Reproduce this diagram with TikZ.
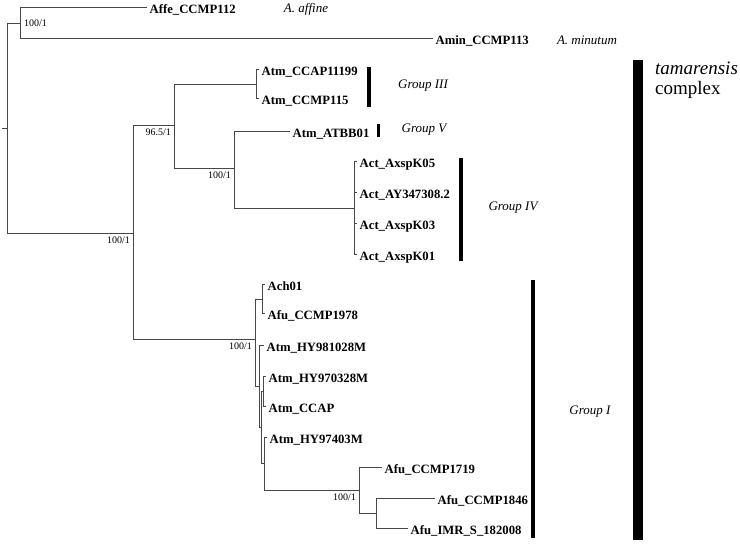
\documentclass[tikz,border=0pt]{standalone}
\usepackage{fontspec}
\setmainfont{Liberation Serif}
\begin{document}
\begin{tikzpicture}[x=1pt,y=-1pt,
  br/.style={draw=black!72, line width=0.8pt},
  leaf/.style={anchor=west, inner xsep=2.5pt, inner ysep=0pt, text height=13pt, text depth=0pt, font=\fontsize{12.7}{14}\selectfont\bfseries},
  sv/.style={anchor=north east, inner sep=0pt, font=\fontsize{10}{11}\selectfont},
  grp/.style={inner sep=0pt, font=\fontsize{13}{15}\selectfont\itshape},
  bigl/.style={anchor=west, inner sep=0pt, font=\fontsize{19}{22}\selectfont}]
\useasboundingbox (0,0) rectangle (740,544);

% internal nodes
\coordinate (rs) at (2,128);
\coordinate (root) at (7,128);
\coordinate (A) at (20,23);
\coordinate (B) at (133,233);
\coordinate (C) at (174,125);
\coordinate (D) at (256,84);
\coordinate (E) at (234,168);
\coordinate (F) at (354,208);
\coordinate (G) at (255,339);
\coordinate (H) at (262,299);
\coordinate (I) at (259,386);
\coordinate (L) at (261,427);
\coordinate (M) at (263,391);
\coordinate (N) at (264,463);
\coordinate (J) at (359,490);
\coordinate (K) at (376,513);

% leaves
\node[leaf] (affe) at (147,7) {Affe\_CCMP112};
\node[leaf] (amin) at (433,38) {Amin\_CCMP113};
\node[leaf] (l1) at (259,69) {Atm\_CCAP11199};
\node[leaf] (l2) at (259,98) {Atm\_CCMP115};
\node[leaf] (l3) at (290,131) {Atm\_ATBB01};
\node[leaf] (l4) at (357,161) {Act\_AxspK05};
\node[leaf] (l5) at (357,192) {Act\_AY347308.2};
\node[leaf] (l6) at (357,223) {Act\_AxspK03};
\node[leaf] (l7) at (357,254) {Act\_AxspK01};
\node[leaf] (l8) at (265,284) {Ach01};
\node[leaf] (l9) at (265,313) {Afu\_CCMP1978};
\node[leaf] (l10) at (264,345) {Atm\_HY981028M};
\node[leaf] (l11) at (266,376) {Atm\_HY970328M};
\node[leaf] (l12) at (266,406) {Atm\_CCAP};
\node[leaf] (l13) at (267,437) {Atm\_HY97403M};
\node[leaf] (l14) at (382,467) {Afu\_CCMP1719};
\node[leaf] (l15) at (435,498) {Afu\_CCMP1846};
\node[leaf] (l16) at (408,528) {Afu\_IMR\_S\_182008};

% branches
\draw[br] (rs) -- (root);
\draw[br] (root) |- (A);
\draw[br] (root) |- (B);
\draw[br] (A) |- (affe.west);
\draw[br] (A) |- (amin.west);
\draw[br] (B) |- (C);
\draw[br] (B) |- (G);
\draw[br] (C) |- (D);
\draw[br] (C) |- (E);
\draw[br] (D) |- (l1.west);
\draw[br] (D) |- (l2.west);
\draw[br] (E) |- (l3.west);
\draw[br] (E) |- (F);
\draw[br] (F) |- (l4.west);
\draw[br] (F) |- (l5.west);
\draw[br] (F) |- (l6.west);
\draw[br] (F) |- (l7.west);
\draw[br] (G) |- (H);
\draw[br] (G) |- (I);
\draw[br] (H) |- (l8.west);
\draw[br] (H) |- (l9.west);
\draw[br] (I) |- (l10.west);
\draw[br] (I) |- (L);
\draw[br] (L) |- (M);
\draw[br] (L) |- (N);
\draw[br] (M) |- (l11.west);
\draw[br] (M) |- (l12.west);
\draw[br] (N) |- (l13.west);
\draw[br] (N) |- (J);
\draw[br] (J) |- (l14.west);
\draw[br] (J) |- (K);
\draw[br] (K) |- (l15.west);
\draw[br] (K) |- (l16.west);

% support values
\node[sv, anchor=west] (svA) at (24,23) {100/1};
\node[sv] (svB) at ([shift={(-3,4)}]B) {100/1};
\node[sv] (svC) at ([shift={(-3,4)}]C) {96.5/1};
\node[sv] (svE) at ([shift={(-3,4)}]E) {100/1};
\node[sv] (svG) at ([shift={(-3,4)}]G) {100/1};
\node[sv] (svJ) at ([shift={(-3,4)}]J) {100/1};

% species and group labels
\node[grp] (taff) at (306,9) {A. affine};
\node[grp] (tmin) at (587,40) {A. minutum};
\node[grp] (g3) at (423,86) {Group III};
\node[grp] (g5) at (424,130) {Group V};
\node[grp] (g4) at (513,208) {Group IV};
\node[grp] (g1) at (590,412) {Group I};

% bars
\fill (367,67) rectangle (371,107);
\fill (377,124) rectangle (380,137);
\fill (459,158) rectangle (463,261);
\fill (531,280) rectangle (535,538);
\fill (633,60) rectangle (643,540);

\node[bigl, font=\fontsize{19}{22}\selectfont\itshape] (tam) at (655,68) {tamarensis};
\node[bigl] (cpx) at (655,90) {complex};
\end{tikzpicture}
\end{document}
